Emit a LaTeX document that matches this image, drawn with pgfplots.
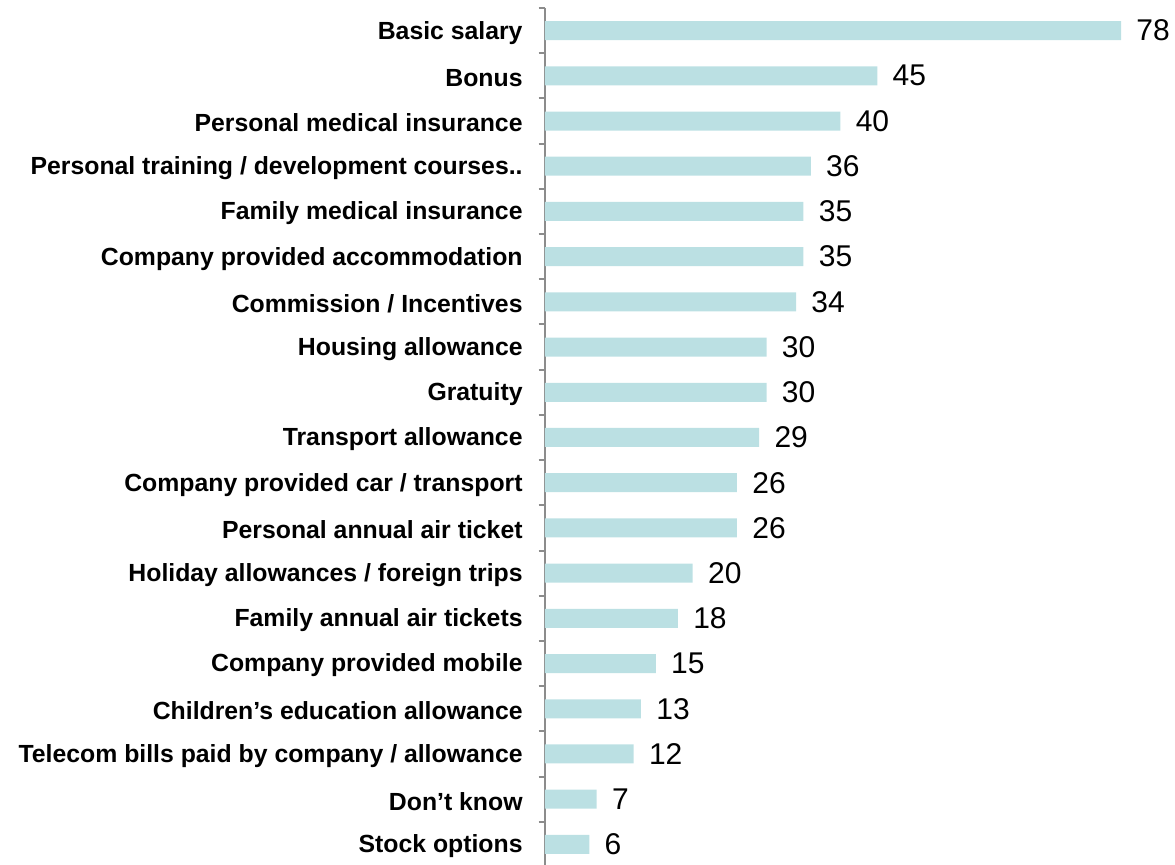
\documentclass[border=0pt]{standalone}
\usepackage{fontspec}
\setmainfont{Liberation Sans}
\usepackage{pgfplots}
\pgfplotsset{compat=1.18}
\definecolor{barc}{HTML}{BBE0E3}
\definecolor{axc}{HTML}{8C8C8C}
\begin{document}
\begin{tikzpicture}
\begin{axis}[
  at={(0,0)}, anchor=south west,
  scale only axis,
  width=295.4pt, height=429.5pt,
  xbar, bar width=9.5pt,
  xmin=0, xmax=80,
  ymin=-0.5, ymax=18.5,
  y dir=reverse,
  axis x line=none,
  axis y line*=left,
  y axis line style={axc, line width=1pt, -},
  ytick={0,...,18},
  major tick length=0pt,
  minor ytick={-0.5,0.5,...,18.5},
  minor tick length=3.2pt,
  tick align=outside,
  every minor tick/.style={axc, line width=1pt},
  /pgf/number format/assume math mode=true,
  yticklabels={Basic salary, Bonus, Personal medical insurance, Personal training / development courses.., Family medical insurance, Company provided accommodation, Commission / Incentives, Housing allowance, Gratuity, Transport allowance, Company provided car / transport, Personal annual air ticket, Holiday allowances / foreign trips, Family annual air tickets, Company provided mobile, Children's education allowance, Telecom bills paid by company / allowance, Don't know, Stock options},
  yticklabel style={font=\fontsize{12.4pt}{14pt}\selectfont\bfseries, inner sep=0pt, xshift=-11pt, yshift=-1pt},
  nodes near coords,
  nodes near coords style={font=\fontsize{15pt}{18pt}\selectfont, anchor=west, inner sep=0pt, xshift=7.5pt},
  clip=false,
]
\addplot[fill=barc, draw=none] coordinates {
(78,0) (45,1) (40,2) (36,3) (35,4) (35,5) (34,6) (30,7) (30,8) (29,9)
(26,10) (26,11) (20,12) (18,13) (15,14) (13,15) (12,16) (7,17) (6,18)
};
\end{axis}
\pgfresetboundingbox
\path[use as bounding box] (-272.5pt,1pt) rectangle (315pt,433.5pt);
\end{tikzpicture}
\end{document}
